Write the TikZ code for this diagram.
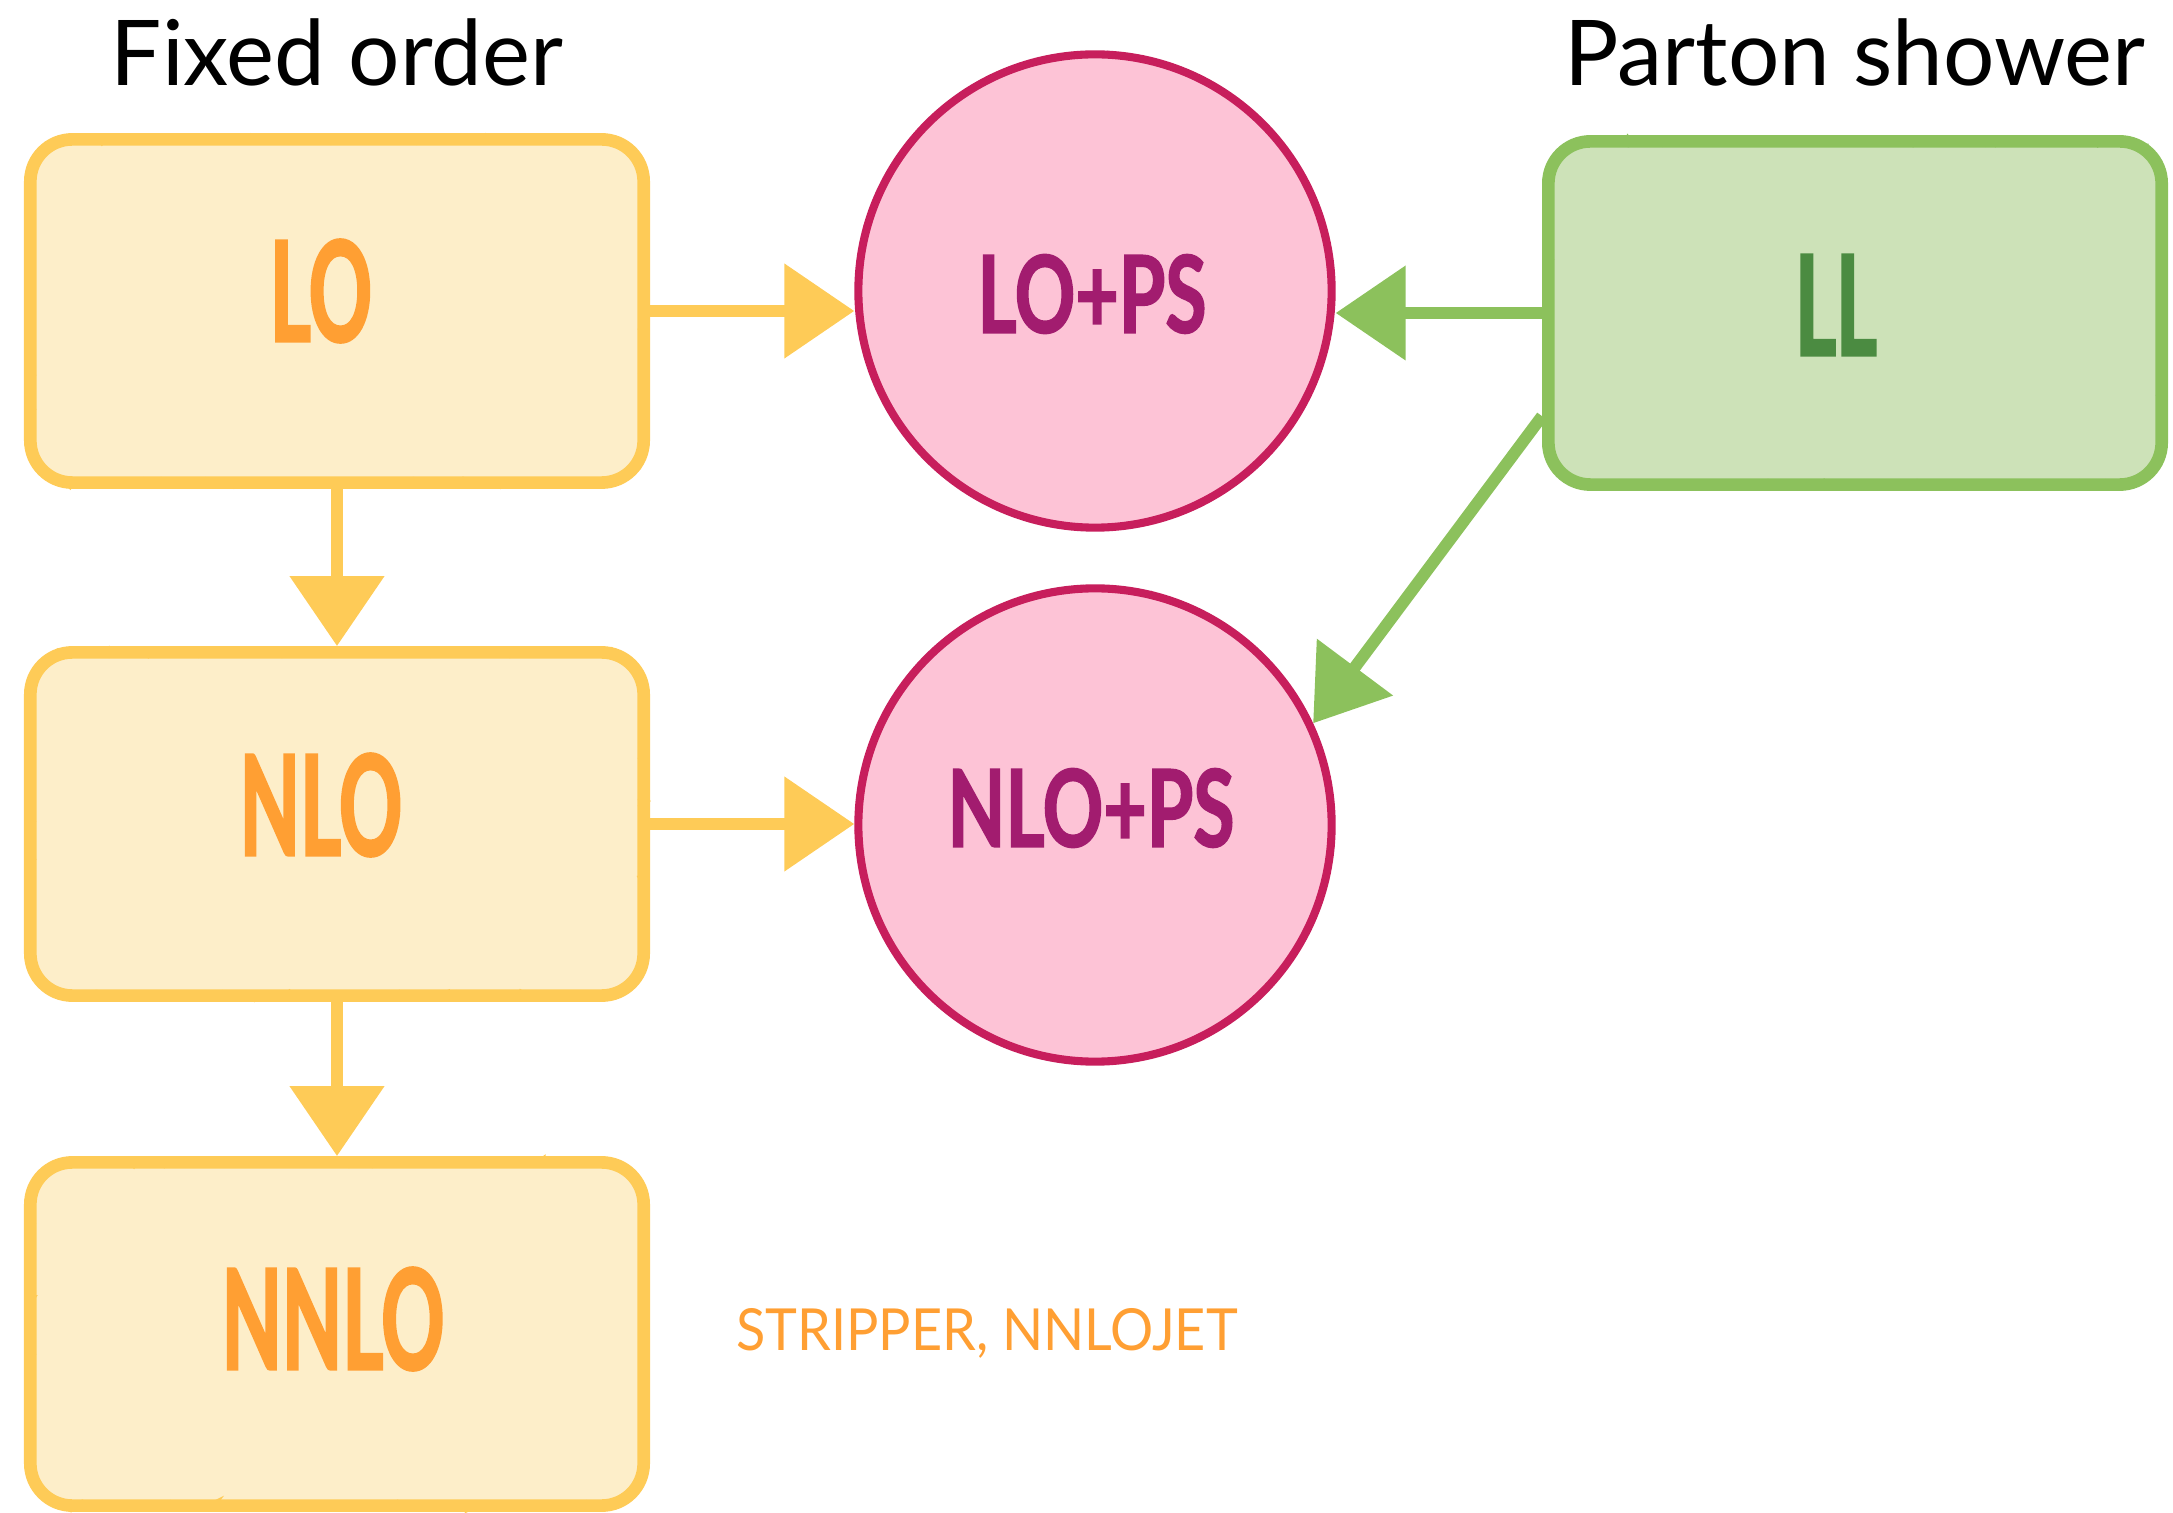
\documentclass[tikz,border=0pt]{standalone}
\usepackage{fontspec}
\setmainfont{Lato}
\newfontfamily\condfont[FakeStretch=0.56, FakeBold=1.6]{Lato}
\newfontfamily\widecondfont[FakeStretch=0.7, FakeBold=1.4]{Lato}
\usetikzlibrary{arrows.meta,calc,decorations.pathmorphing}

\definecolor{boxfill}{HTML}{FDEEC9}
\definecolor{boxline}{HTML}{FECB57}
\definecolor{boxtext}{HTML}{FF9F33}
\definecolor{pinkfill}{HTML}{FDC3D6}
\definecolor{pinkline}{HTML}{C71E5C}
\definecolor{pinktext}{HTML}{A21C6F}
\definecolor{greenfill}{HTML}{CDE2B8}
\definecolor{greenline}{HTML}{8CC15C}
\definecolor{greentext}{HTML}{4B8B41}

\pgfmathsetmacro{\dummyseed}{0}
\pgfmathsetseed{4242}

\tikzset{
  crayon/.style={postaction={draw=#1, line width=1.4pt, sharp corners,
    decorate, decoration={random steps, segment length=1.6pt, amplitude=0.9pt}}},
  roundbox/.style={line width=3.6pt, rounded corners=0.42cm,
    minimum width=6.13cm, minimum height=3.43cm, inner sep=0pt},
  orderbox/.style={roundbox, draw=boxline, fill=boxfill, crayon=boxline},
  showerbox/.style={roundbox, draw=greenline, fill=greenfill, crayon=greenline},
  matchcircle/.style={circle, draw=pinkline, fill=pinkfill, line width=2.3pt,
    minimum size=4.73cm, inner sep=0pt,
    postaction={draw=pinkline, line width=0.9pt, decorate,
      decoration={random steps, segment length=1.5pt, amplitude=0.6pt}}},
  bigtag/.style={font=\condfont\bfseries\fontsize{39.8}{40}\selectfont, inner sep=0pt},
  midtag/.style={font=\widecondfont\bfseries\fontsize{30.5}{32}\selectfont, inner sep=0pt, text=pinktext},
  heading/.style={font=\fontsize{25.8}{28}\selectfont, inner sep=0pt},
  flow/.style={draw=boxline, line width=3.4pt, -{Triangle[length=0.7cm, width=0.92cm]}},
  greenflow/.style={flow, draw=greenline}
}

\begin{document}
\begin{tikzpicture}[x=0.01cm, y=-0.01cm]
  \useasboundingbox (0,0) rectangle (2173,1513);

  % column headings
  \node[heading] at (337,52) {Fixed order};
  \node[heading] at (1855,52) {Parton shower};

  % fixed-order boxes
  \node[orderbox] (LO) at (337,311) {};
  \node[orderbox] (NLO) at (337,824) {};
  \node[orderbox] (NNLO) at (337,1334) {};
  \node[bigtag, text=boxtext] at (321,291) {LO};
  \node[bigtag, text=boxtext] at (321,805) {NLO};
  \node[bigtag, text=boxtext] at (333,1319) {NNLO};

  % parton-shower box
  \node[showerbox] (LL) at (1855,313) {};
  \node[bigtag, text=greentext] at (1836,305) {LL};

  % matched predictions
  \node[matchcircle] (LOPS) at (1095,291) {};
  \node[matchcircle] (NLOPS) at (1095,825) {};
  \node[midtag] at (1092,294) {LO+PS};
  \node[midtag] at (1091,808) {NLO+PS};

  % programs
  \node[font=\fontsize{16.5}{18}\selectfont, text=boxtext, inner sep=0pt, xscale=0.93, transform shape] (prog) at (987,1333) {STRIPPER, NNLOJET};

  % connectors
  \draw[flow] (LO.east) -- (LO.east -| LOPS.west);
  \draw[flow] (NLO.east) -- (NLO.east -| NLOPS.west);
  \draw[flow] (LO.south) -- (NLO.north);
  \draw[flow] (NLO.south) -- (NNLO.north);
  \draw[greenflow] (LL.west) -- (LL.west -| LOPS.east);
  \coordinate (LLlow) at ($(LL.south west)!0.21!(LL.north west)$);
  \draw[greenflow] (LLlow) -- (NLOPS.25);
\end{tikzpicture}
\end{document}
